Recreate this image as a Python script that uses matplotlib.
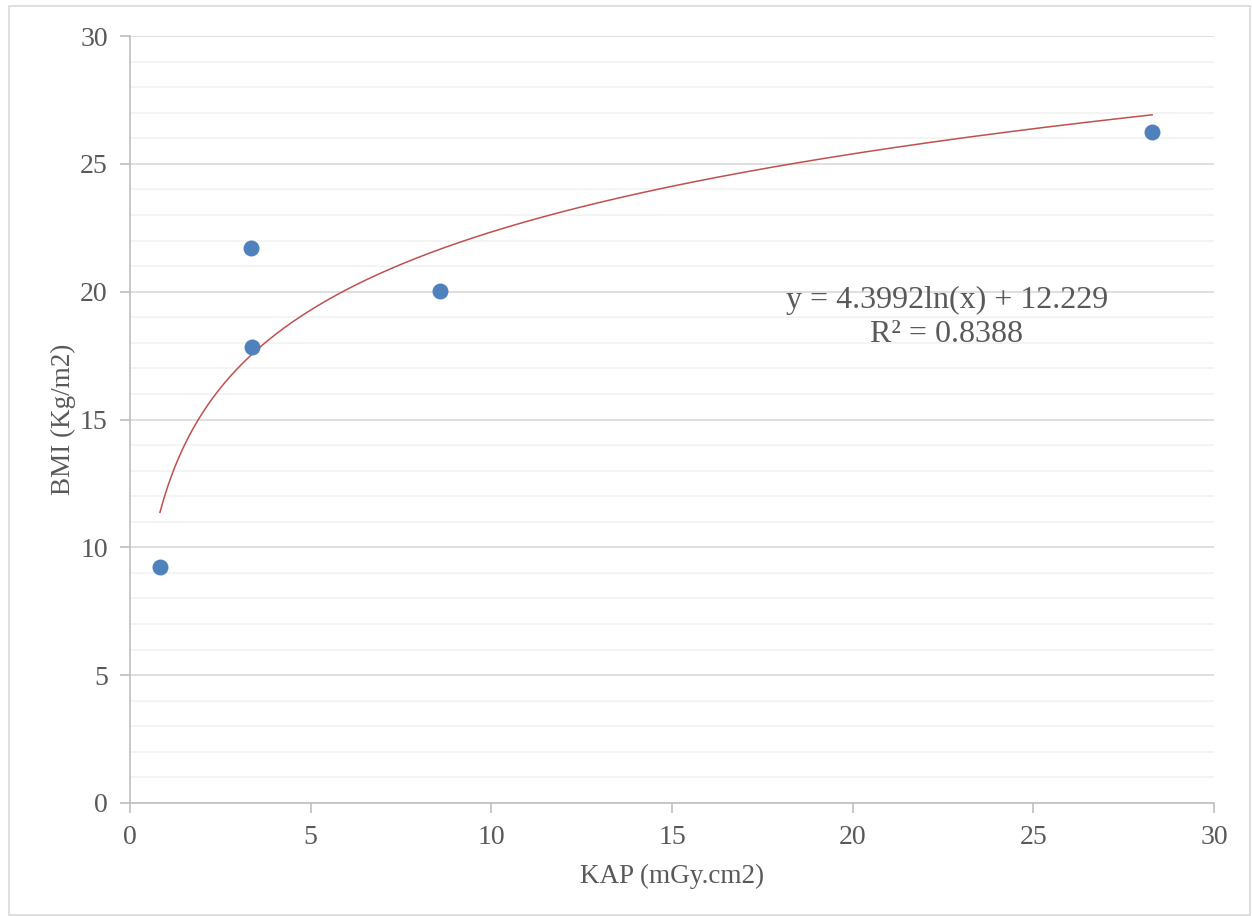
import numpy as np
import matplotlib
matplotlib.use("Agg")
import matplotlib.pyplot as plt
from matplotlib.patches import Rectangle
from matplotlib.ticker import MultipleLocator

kap = [0.83, 3.35, 3.38, 8.58, 28.29]
bmi = [9.23, 21.70, 17.83, 20.02, 26.24]
eq_text = "y = 4.3992ln(x) + 12.229"
r2_text = "R² = 0.8388"
x_label = "KAP (mGy.cm2)"
y_label = "BMI (Kg/m2)"

plt.rcParams['font.family'] = ['Liberation Serif', 'DejaVu Serif']

fig = plt.figure(figsize=(12.52, 9.16), dpi=100)
ax = fig.add_axes([130/1252, 1 - 803/916, (1214-130)/1252, (803-36)/916])

# outer chart border
fig.patches.append(Rectangle((9/1252, 1/916), 1241/1252, 909/916, transform=fig.transFigure,
                             fill=False, edgecolor='#D9D9D9', linewidth=1.2))

ax.set_xlim(0, 30)
ax.set_ylim(0, 30)
ax.xaxis.set_major_locator(MultipleLocator(5))
ax.yaxis.set_major_locator(MultipleLocator(5))
ax.yaxis.set_minor_locator(MultipleLocator(1))
ax.grid(True, axis='y', which='major', color='#D9D9D9', linewidth=1.2)
ax.grid(True, axis='y', which='minor', color='#F2F2F2', linewidth=1.2)
ax.set_axisbelow(True)
ax.tick_params(axis='y', which='minor', length=0)
ax.tick_params(axis='both', which='major', length=7, width=1.2, color='#BFBFBF',
               labelcolor='#595959', labelsize=20)
ax.tick_params(axis='y', which='major', pad=9)
ax.tick_params(axis='x', which='major', pad=9)
for s in ['top', 'right']:
    ax.spines[s].set_visible(False)
for s in ['left', 'bottom']:
    ax.spines[s].set_color('#BFBFBF')
    ax.spines[s].set_linewidth(1.2)

# log trendline fitted to data
lx = np.log(np.array(kap))
b, a = np.polyfit(lx, np.array(bmi), 1)
xs = np.linspace(min(kap), max(kap), 400)
ax.plot(xs, b * np.log(xs) + a, color='#C0504D', linewidth=1.1, zorder=2)

ax.plot(kap, bmi, 'o', color='#4F81BD', markersize=11.5, markeredgewidth=0, zorder=3)

ax.set_xlabel(x_label, fontsize=19.5, color='#595959', labelpad=10)
ax.set_ylabel(y_label, fontsize=19.5, color='#595959', labelpad=3)

fig.text(947/1252, 1 - 300/916, eq_text, ha='center', va='center', fontsize=23, color='#595959')
fig.text(947/1252, 1 - 334/916, r2_text, ha='center', va='center', fontsize=23, color='#595959')

fig.savefig('out.png', dpi=100)
